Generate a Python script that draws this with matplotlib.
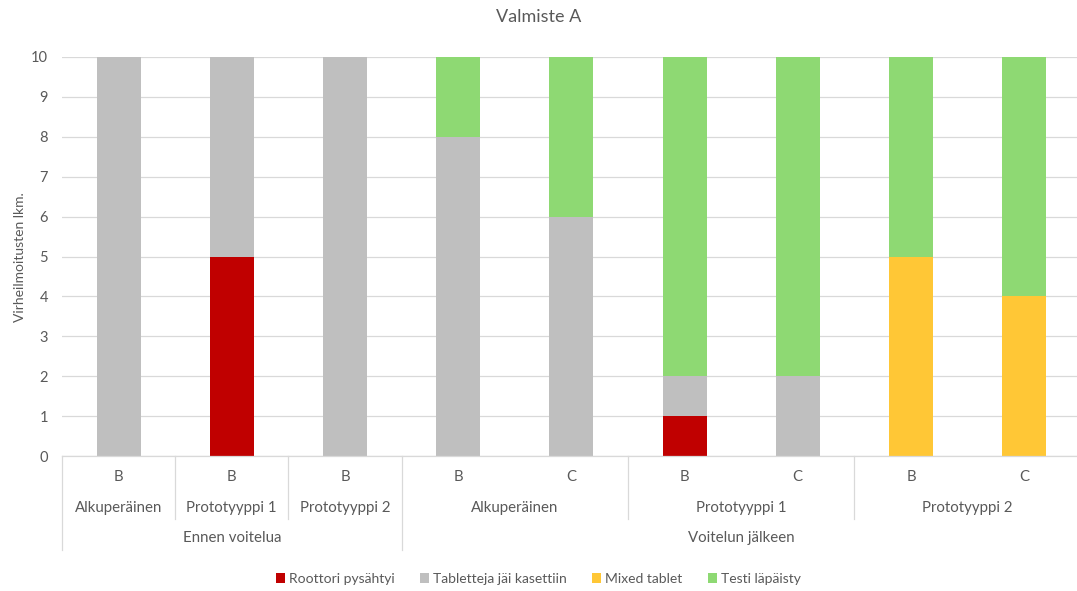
import numpy as np
import matplotlib
matplotlib.use("Agg")
import matplotlib.pyplot as plt
from matplotlib.patches import Patch
from matplotlib.lines import Line2D
import matplotlib.transforms as mtransforms

plt.rcParams['font.family'] = ['Lato', 'DejaVu Sans']

# innermost category labels (valmiste-erä)
items = ['B', 'B', 'B', 'B', 'C', 'B', 'C', 'B', 'C']
# (label, first index, last index)
subgroups = [('Alkuperäinen', 0, 0), ('Prototyyppi 1', 1, 1), ('Prototyyppi 2', 2, 2),
             ('Alkuperäinen', 3, 4), ('Prototyyppi 1', 5, 6), ('Prototyyppi 2', 7, 8)]
groups = [('Ennen voitelua', 0, 2), ('Voitelun jälkeen', 3, 8)]

series_names = ['Roottori pysähtyi', 'Tabletteja jäi kasettiin', 'Mixed tablet', 'Testi läpäisty']
roottori = [0, 5, 0, 0, 0, 1, 0, 0, 0]
tabletteja = [10, 5, 10, 8, 6, 1, 2, 0, 0]
mixed = [0, 0, 0, 0, 0, 0, 0, 5, 4]
testi = [0, 0, 0, 2, 4, 8, 8, 5, 6]

colors = ['#C00000', '#BFBFBF', '#FFC736', '#8ED973']
txt = '#595959'
grid_c = '#D9D9D9'

W, H = 1077, 591
fig = plt.figure(figsize=(W / 100, H / 100), dpi=100)
ax = fig.add_axes([62 / W, (H - 456) / H, (W - 62) / W, (456 - 57) / H])

x = np.arange(len(items))
bottom = np.zeros(len(items))
for vals, c in zip([roottori, tabletteja, mixed, testi], colors):
    vals = np.array(vals, dtype=float)
    ax.bar(x, vals, width=0.39, bottom=bottom, color=c, zorder=2)
    bottom += vals

cat_w = 113.2
ax.set_xlim(-0.5, -0.5 + (W - 62) / cat_w)
ax.set_ylim(0, 10)
ax.set_yticks(range(0, 11))
ax.yaxis.grid(True, color=grid_c, linewidth=0.9, zorder=0)
ax.set_axisbelow(True)
for s in ['top', 'right', 'left']:
    ax.spines[s].set_visible(False)
ax.spines['bottom'].set_color(grid_c)
ax.spines['bottom'].set_linewidth(0.9)
ax.tick_params(axis='y', length=0, labelsize=10.5, labelcolor=txt, pad=10)
ax.tick_params(axis='x', length=0, labelbottom=False)

fy = lambda py: 1 - py / H
fig.text(20 / W, fy(257), 'Virheilmoitusten lkm.', rotation=90, ha='center', va='center',
         fontsize=10, color=txt)
fig.text(0.5, fy(17), 'Valmiste A', ha='center', va='center', fontsize=13, color=txt)

# multi-level category axis
tr = mtransforms.blended_transform_factory(ax.transData, fig.transFigure)
for i, lab in enumerate(items):
    ax.text(i, fy(477), lab, transform=tr, ha='center', va='center', fontsize=10.8, color=txt)
for lab, a, b in subgroups:
    ax.text((a + b) / 2, fy(508), lab, transform=tr, ha='center', va='center', fontsize=10.8, color=txt)
for lab, a, b in groups:
    ax.text((a + b) / 2, fy(538), lab, transform=tr, ha='center', va='center', fontsize=10.8, color=txt)

long_sep = [-0.5, 2.5, 8.5]
short_sep = [0.5, 1.5, 4.5, 6.5]
for sx in long_sep:
    fig.add_artist(Line2D([sx, sx], [fy(456), fy(550)], transform=tr, color=grid_c, linewidth=0.9))
for sx in short_sep:
    fig.add_artist(Line2D([sx, sx], [fy(456), fy(519)], transform=tr, color=grid_c, linewidth=0.9))

handles = [Patch(facecolor=c, edgecolor='none') for c in colors]
fig.legend(handles, series_names, loc='center', bbox_to_anchor=(0.5, fy(579)), ncol=4,
           frameon=False, fontsize=10, labelcolor=txt, handlelength=0.65, handleheight=0.65,
           handletextpad=0.3, columnspacing=1.8)

fig.savefig('out.png', dpi=100)
